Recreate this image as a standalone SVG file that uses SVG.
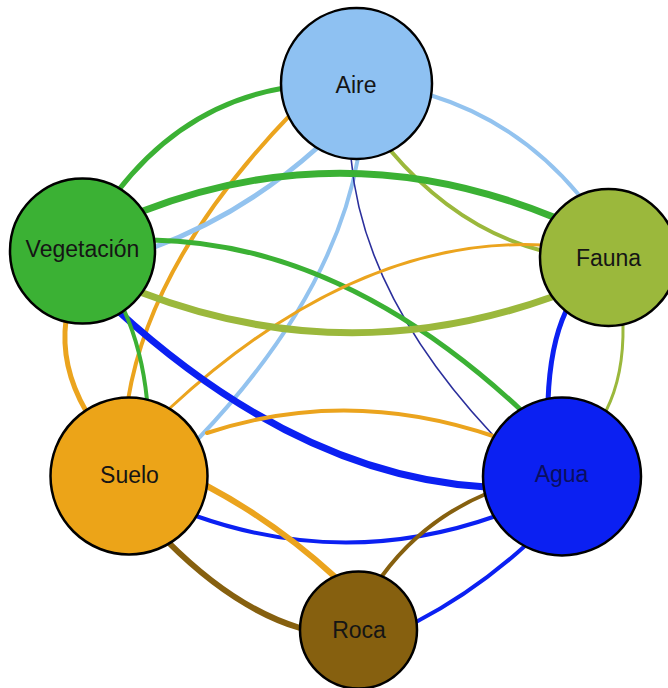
<svg xmlns="http://www.w3.org/2000/svg" width="668" height="688" viewBox="0 0 668 688">
<style>
.e{fill:none;stroke-linecap:round}
.n{stroke:#000;stroke-width:2.5}
.t{font-family:"Liberation Sans",Arial,sans-serif;font-size:23px;fill:#151515;text-anchor:middle}
.veg{stroke:#3bb134}
.air{stroke:#93c3ef}
.sue{stroke:#eba41e}
.fau{stroke:#9bb83c}
.agu{stroke:#0b20f2}
.roc{stroke:#86600f}
.nav{stroke:#2b2f9c}
</style>
<rect width="668" height="688" fill="#fff"/>
<g id="connectors">
<path class="e veg" stroke-width="5" d="M117,192 Q184,105 284,88"/>
<path class="e air" stroke-width="4" d="M430,95 Q518,122 579,195"/>
<path class="e sue" stroke-width="4" d="M128,400 Q151,259 292,113"/>
<path class="e air" stroke-width="5" d="M317,148 Q242,215 152,248"/>
<path class="e air" stroke-width="4" d="M358,158 Q333,297 198,439"/>
<path class="e nav" stroke-width="1.6" d="M351,158 Q363,296 492,434"/>
<path class="e fau" stroke-width="4" d="M390,150 Q457,229 543,251"/>
<path class="e veg" stroke-width="7" d="M143,211 Q348,132 556,218"/>
<path class="e veg" stroke-width="5" d="M152,240 Q342,243 522,411"/>
<path class="e sue" stroke-width="3" d="M170,408 Q356,236 543,245"/>
<path class="e fau" stroke-width="7" d="M552,297 Q345,371 140,292"/>
<path class="e agu" stroke-width="7" d="M117,310 Q299,476 486,487"/>
<path class="e veg" stroke-width="4" d="M124,310 Q142,350 147,400"/>
<path class="e sue" stroke-width="5" d="M86,411 Q60,366 66,320"/>
<path class="e agu" stroke-width="5" d="M566,311 Q550,345 548,401"/>
<path class="e fau" stroke-width="3" d="M623,325 Q624,375 606,411"/>
<path class="e sue" stroke-width="4" d="M207,433 Q348,386 496,437"/>
<path class="e agu" stroke-width="4" d="M196,516 Q346,569 496,516"/>
<path class="e sue" stroke-width="6" d="M207,486 Q275,522 334,576"/>
<path class="e roc" stroke-width="6" d="M168,542 Q234,608 300,628"/>
<path class="e roc" stroke-width="4" d="M382,576 Q423,520 488,493"/>
<path class="e agu" stroke-width="4" d="M526,545 Q474,592 416,622"/>
</g>
<g id="aire"><circle class="n" cx="356.5" cy="83.5" r="75.5" fill="#8ec1f2"/><text class="t" x="356" y="92.5">Aire</text></g>
<g id="vegetacion"><circle class="n" cx="82.5" cy="251" r="72.5" fill="#3bb134"/><text class="t" x="82.5" y="257">Vegetación</text></g>
<g id="fauna"><circle class="n" cx="608.5" cy="257.5" r="68.5" fill="#9bb83c"/><text class="t" x="608.5" y="265.5">Fauna</text></g>
<g id="suelo"><circle class="n" cx="129" cy="476" r="78.5" fill="#eca418"/><text class="t" x="129.5" y="483">Suelo</text></g>
<g id="agua"><circle class="n" cx="562" cy="476.5" r="79" fill="#0b20f2"/><text class="t" x="561.5" y="481.5" fill="#0a0f60" style="fill:#0a0f60">Agua</text></g>
<g id="roca"><circle class="n" cx="358.5" cy="630" r="58.5" fill="#86600f"/><text class="t" x="359" y="638">Roca</text></g>
</svg>
